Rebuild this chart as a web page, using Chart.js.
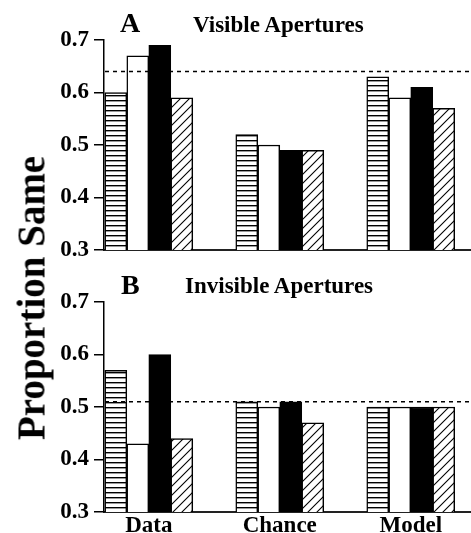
<!DOCTYPE html>
<html>
<head>
<meta charset="utf-8">
<script src="https://cdn.jsdelivr.net/npm/chart.js@4.4.1/dist/chart.umd.min.js"></script>
<style>
  html, body { margin: 0; padding: 0; background: #fff; }
  #wrap {
    position: relative; width: 471px; height: 533px; overflow: hidden;
    font-family: "Liberation Serif", "Times New Roman", serif; font-weight: bold; color: #000;
  }
  canvas { position: absolute; left: 0; }
  #chartA { top: 0; }
  #chartB { top: 262px; }
  .letter { position: absolute; font-size: 28px; line-height: 1; white-space: nowrap; }
  .ptitle { position: absolute; font-size: 23px; line-height: 1; white-space: nowrap; }
  #ytitle {
    position: absolute; left: 31px; top: 298px; font-size: 39px; line-height: 1;
    white-space: nowrap; transform: translate(-50%, -50%) rotate(-90deg);
  }
</style>
</head>
<body>
<div id="wrap">
  <canvas id="chartA" width="471" height="270"></canvas>
  <canvas id="chartB" width="471" height="271"></canvas>
  <div class="letter" style="left:120px; top:9px;">A</div>
  <div class="ptitle" style="left:193px; top:13px;">Visible Apertures</div>
  <div class="letter" style="left:121px; top:271px;">B</div>
  <div class="ptitle" style="left:185px; top:274px;">Invisible Apertures</div>
  <div id="ytitle">Proportion Same</div>
</div>
<script>
// Categories along the x axis
const categories = ['Data', 'Chance', 'Model'];

// Panel A: visible apertures (one array per bar style)
const visibleHoriz = [0.60, 0.52, 0.63];
const visibleWhite = [0.67, 0.50, 0.59];
const visibleBlack = [0.69, 0.49, 0.61];
const visibleDiag  = [0.59, 0.49, 0.57];
const visibleRef = 0.64;

// Panel B: invisible apertures
const invisibleHoriz = [0.57, 0.51, 0.50];
const invisibleWhite = [0.43, 0.50, 0.50];
const invisibleBlack = [0.60, 0.51, 0.50];
const invisibleDiag  = [0.44, 0.47, 0.50];
const invisibleRef = 0.51;

// Y axis tick values
const yTicks = [0.3, 0.4, 0.5, 0.6, 0.7];

Chart.defaults.font.family = '"Liberation Serif", "Times New Roman", serif';
Chart.defaults.font.weight = 'bold';
Chart.defaults.color = '#000';

function makePattern(kind) {
  const c = document.createElement('canvas');
  const g = c.getContext('2d');
  if (kind === 'horizontal') {
    c.width = 8; c.height = 5;
    g.fillStyle = '#fff'; g.fillRect(0, 0, 8, 5);
    g.fillStyle = '#000'; g.fillRect(0, 0, 8, 1.4);
  } else {
    const s = 9;
    c.width = s; c.height = s;
    g.fillStyle = '#fff'; g.fillRect(0, 0, s, s);
    g.strokeStyle = '#000'; g.lineWidth = 1.1;
    g.beginPath();
    g.moveTo(0, s); g.lineTo(s, 0);
    g.moveTo(-1, 1); g.lineTo(1, -1);
    g.moveTo(s - 1, s + 1); g.lineTo(s + 1, s - 1);
    g.stroke();
  }
  return g.createPattern(c, 'repeat');
}

const fillHoriz = makePattern('horizontal');
const fillDiag = makePattern('diagonal');

// Dashed horizontal reference line across the plot
const refLine = {
  id: 'refLine',
  afterDatasetsDraw(chart, args, opts) {
    const y = chart.scales.y.getPixelForValue(opts.value);
    const { left, right } = chart.chartArea;
    const ctx = chart.ctx;
    ctx.save();
    ctx.strokeStyle = '#000';
    ctx.lineWidth = 1.5;
    ctx.setLineDash([4, 4]);
    ctx.beginPath();
    ctx.moveTo(left + 1, y);
    ctx.lineTo(right, y);
    ctx.stroke();
    ctx.restore();
  }
};

const xMin = -0.342;
const xMax = 2.46;

function buildChart(id, series, refValue, showCategoryLabels) {
  const styles = [fillHoriz, '#fff', '#000', fillDiag];
  const names = ['Horizontal', 'Open', 'Solid', 'Diagonal'];
  return new Chart(document.getElementById(id), {
    type: 'bar',
    data: {
      labels: categories.map((c, i) => i),
      datasets: series.map((vals, k) => ({
        label: names[k],
        data: vals,
        backgroundColor: styles[k],
        borderColor: '#000',
        borderWidth: 1.5,
        barThickness: 22
      }))
    },
    options: {
      responsive: false,
      animation: false,
      layout: { padding: { top: 40, bottom: showCategoryLabels ? 0 : 20, left: 0, right: 0 } },
      plugins: {
        legend: { display: false },
        tooltip: { enabled: false },
        refLine: { value: refValue }
      },
      scales: {
        x: {
          type: 'linear',
          min: xMin,
          max: xMax,
          offset: false,
          grid: { display: false, drawTicks: false },
          border: { display: true, color: '#222', width: 2 },
          afterBuildTicks: (scale) => { scale.ticks = categories.map((c, i) => ({ value: i })); },
          afterFit: (scale) => { scale.height = showCategoryLabels ? 21 : 0; },
          ticks: {
            display: showCategoryLabels,
            autoSkip: false,
            maxRotation: 0,
            padding: 0,
            font: { size: 23, weight: 'bold' },
            color: '#000',
            callback: (v) => categories[v]
          }
        },
        y: {
          min: 0.3,
          max: 0.7,
          grid: { drawOnChartArea: false, drawTicks: true, tickLength: 10, color: '#000', lineWidth: 1.5 },
          border: { display: true, color: '#000', width: 1.5 },
          afterBuildTicks: (scale) => { scale.ticks = yTicks.map(v => ({ value: v })); },
          afterFit: (scale) => { scale.width = 104; },
          ticks: {
            padding: 5,
            font: { size: 23, weight: 'bold' },
            color: '#000',
            callback: (v) => v.toFixed(1)
          }
        }
      }
    },
    plugins: [refLine]
  });
}

buildChart('chartA', [visibleHoriz, visibleWhite, visibleBlack, visibleDiag], visibleRef, false);
buildChart('chartB', [invisibleHoriz, invisibleWhite, invisibleBlack, invisibleDiag], invisibleRef, true);
</script>
</body>
</html>
